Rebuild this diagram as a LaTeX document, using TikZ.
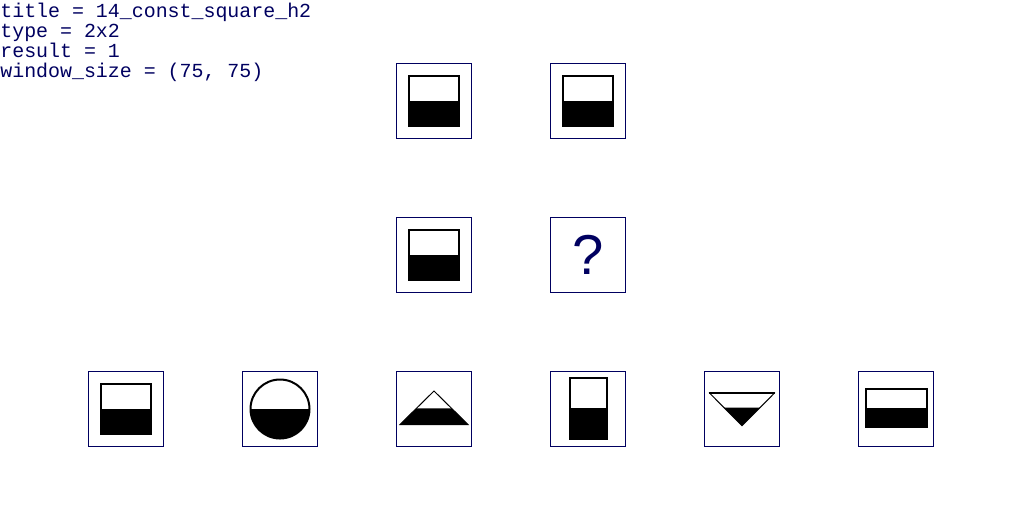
\documentclass[tikz,border=0pt]{standalone}
\usepackage{fontspec}
\setmonofont{Liberation Mono}
\newfontfamily\qmarkfont{Liberation Sans}
\usetikzlibrary{positioning}
\definecolor{navyink}{RGB}{0,0,96}

\begin{document}
\begin{tikzpicture}[
    x=0.02cm, y=-0.02cm,
    frame/.style  = {draw=navyink, line width=0.02cm, minimum size=1.5cm, inner sep=0pt},
    ink/.style    = {draw=black, line width=0.04cm},
    hairline/.style = {draw=black, line width=0.02cm},
    info/.style   = {anchor=north west, inner sep=0pt, align=left, text=navyink,
                     font=\ttfamily\fontsize{11.34}{11.38}\selectfont},
    qmark/.style  = {frame, text=navyink, font=\qmarkfont\fontsize{32}{32}\selectfont},
  ]
  \useasboundingbox (0,0) rectangle (1024,512);

  \node[info] (info) at (0,3)
      {title = 14\_const\_square\_h2\\type = 2x2\\result = 1\\window\_size = (75, 75)};

  % problem grid
  \node[frame] (p11) at (434,101) {};
  \node[frame] (p12) at (588,101) {};
  \node[frame] (p21) at (434,255) {};
  \node[qmark] (p22) at (588,255) {?};

  % answer choices
  \foreach \i in {1,...,6}
    \node[frame] (c\i) at ({126+154*(\i-1)},409) {};

  % half filled squares
  \foreach \n in {p11, p12, p21, c1} {
    \fill ([shift={(-25.2,0)}]\n.center) rectangle ([shift={(25.2,25.2)}]\n.center);
    \draw[ink] ([shift={(-25.2,-25.2)}]\n.center) rectangle ([shift={(25.2,25.2)}]\n.center);
  }

  % circle
  \begin{scope}[shift={(c2.center)}]
    \fill (-29.5,0) arc[start angle=180, end angle=0, radius=29.5] -- cycle;
    \draw[ink] (0,0) circle[radius=29.5];
  \end{scope}

  % triangle
  \begin{scope}[shift={(c3.center)}]
    \fill (-17.6,-0.7) -- (17.6,-0.7) -- (34,15.5) -- (-34,15.5) -- cycle;
    \draw[hairline] (0,-18) -- (34,15.5) -- (-34,15.5) -- cycle;
  \end{scope}

  % tall rectangle
  \begin{scope}[shift={(c4.center)}]
    \fill (-18,-0.7) rectangle (19,30.3);
    \draw[ink] (-18,-31) rectangle (19,30.3);
  \end{scope}

  % inverted triangle
  \begin{scope}[shift={(c5.center)}]
    \fill (-17.9,-1.3) -- (17.9,-1.3) -- (0,16.7) -- cycle;
    \draw[hairline] (-33,-16.5) -- (0,16.7) -- (33,-16.5);
    \draw[ink] (-33,-16.5) -- (33,-16.5);
  \end{scope}

  % wide rectangle
  \begin{scope}[shift={(c6.center)}]
    \fill (-30,-0.7) rectangle (31.4,18.3);
    \draw[ink] (-30,-19.7) rectangle (31.4,18.3);
  \end{scope}
\end{tikzpicture}
\end{document}
